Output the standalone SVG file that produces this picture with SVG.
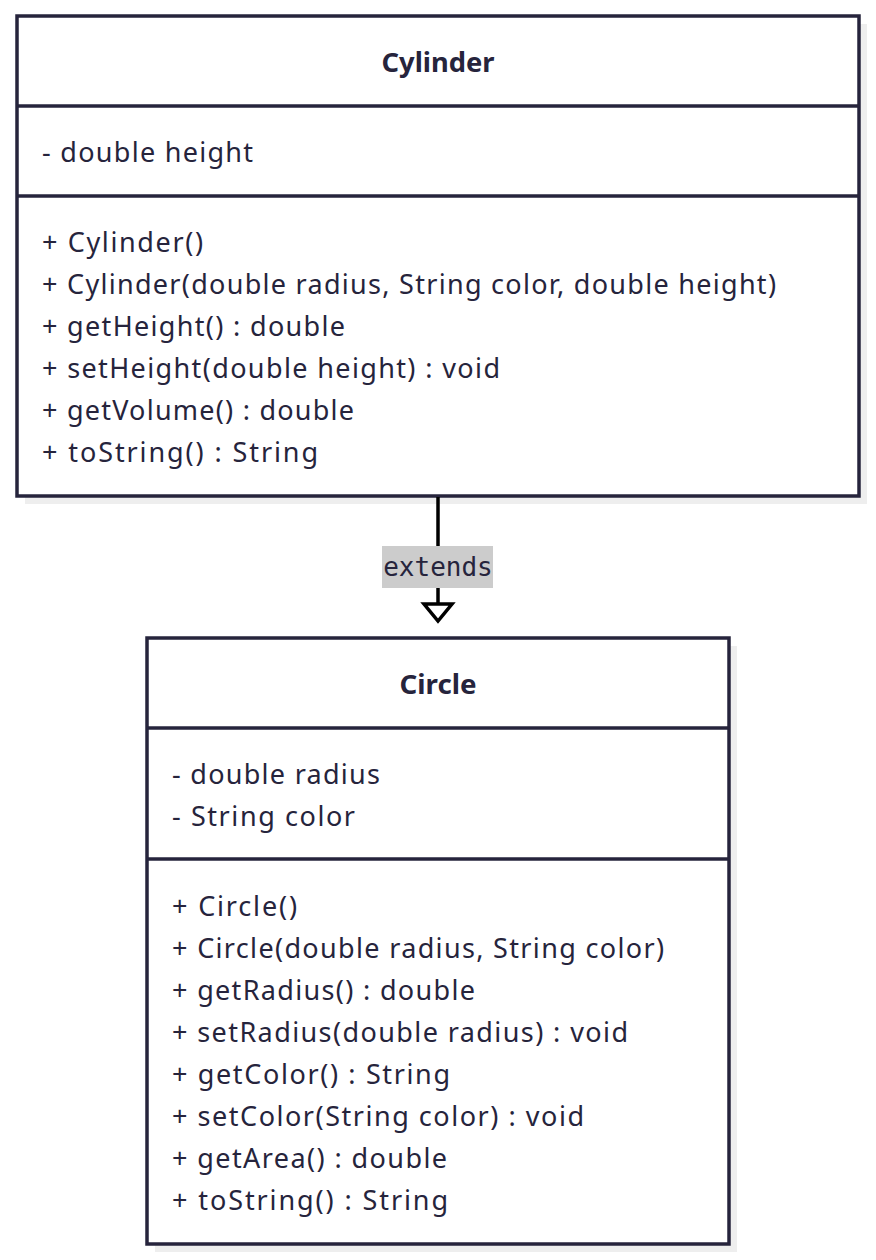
<svg xmlns="http://www.w3.org/2000/svg" width="876" height="1260" viewBox="0 0 876 1260">
<style>
.shadow{fill:#eeeeee;}
.box{fill:#ffffff;stroke:#26243c;stroke-width:3.5;}
.sep{stroke:#26243c;stroke-width:3.5;}
.t{font-family:"Noto Sans","Open Sans",sans-serif;font-size:27px;fill:#26243c;}
.title{font-family:"Noto Sans","Open Sans",sans-serif;font-size:26px;font-weight:bold;fill:#26243c;text-anchor:middle;}
.lbl{font-family:"DejaVu Sans Mono","Liberation Mono",monospace;font-size:26px;fill:#26243c;text-anchor:middle;}
.edge{stroke:#000000;stroke-width:3.5;fill:none;}
</style>
<rect width="876" height="1260" fill="#ffffff"/>
<g id="Cylinder">
<rect class="shadow" x="25" y="24" width="842" height="480"/>
<rect class="box" x="17" y="16" width="842" height="480"/>
<line class="sep" x1="17" y1="106" x2="859" y2="106"/>
<line class="sep" x1="17" y1="196" x2="859" y2="196"/>
<text class="title" x="438" y="72" textLength="113" lengthAdjust="spacingAndGlyphs">Cylinder</text>
<text class="t" x="42" y="162" textLength="211">- double height</text>
<text class="t" x="42" y="252" textLength="161">+ Cylinder()</text>
<text class="t" x="42" y="294" textLength="734">+ Cylinder(double radius, String color, double height)</text>
<text class="t" x="42" y="336" textLength="303">+ getHeight() : double</text>
<text class="t" x="42" y="378" textLength="458">+ setHeight(double height) : void</text>
<text class="t" x="42" y="420" textLength="312">+ getVolume() : double</text>
<text class="t" x="42" y="462" textLength="276">+ toString() : String</text>
</g>
<g id="Circle">
<rect class="shadow" x="155" y="646" width="582" height="606"/>
<rect class="box" x="147" y="638" width="582" height="606"/>
<line class="sep" x1="147" y1="728" x2="729" y2="728"/>
<line class="sep" x1="147" y1="859" x2="729" y2="859"/>
<text class="title" x="438" y="694" textLength="77" lengthAdjust="spacingAndGlyphs">Circle</text>
<text class="t" x="172" y="784" textLength="208">- double radius</text>
<text class="t" x="172" y="826" textLength="183">- String color</text>
<text class="t" x="172" y="916" textLength="125">+ Circle()</text>
<text class="t" x="172" y="958" textLength="492">+ Circle(double radius, String color)</text>
<text class="t" x="172" y="1000" textLength="303">+ getRadius() : double</text>
<text class="t" x="172" y="1042" textLength="456">+ setRadius(double radius) : void</text>
<text class="t" x="172" y="1084" textLength="278">+ getColor() : String</text>
<text class="t" x="172" y="1126" textLength="412">+ setColor(String color) : void</text>
<text class="t" x="172" y="1168" textLength="275">+ getArea() : double</text>
<text class="t" x="172" y="1210" textLength="276">+ toString() : String</text>
</g>
<g id="connectors">
<line class="edge" x1="438" y1="497" x2="438" y2="604"/>
<polygon points="424,604 452,604 438,621" fill="#ffffff" stroke="#000000" stroke-width="3.5" stroke-linejoin="miter"/>
<rect x="382" y="546" width="111" height="42" fill="#cccccc"/>
<text class="lbl" x="438" y="576">extends</text>
</g>
</svg>
